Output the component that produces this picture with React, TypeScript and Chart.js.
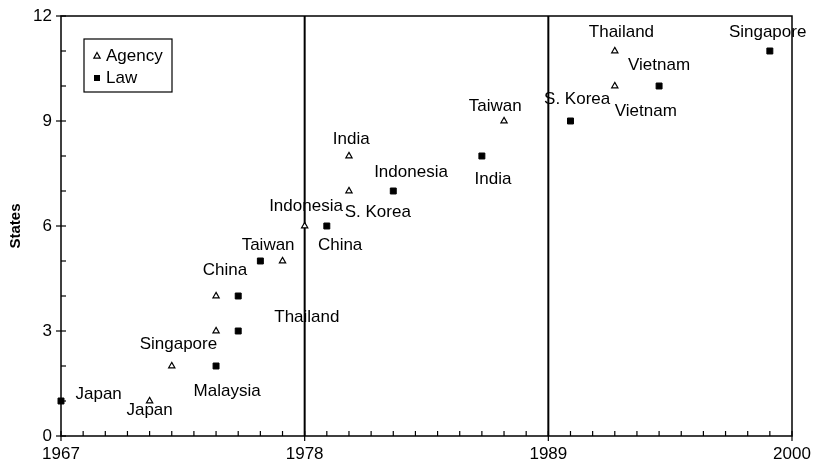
import React, { useEffect, useRef } from 'react';
import { Chart, registerables } from 'chart.js';

Chart.register(...registerables);

// Data
const agencyYears = [1971, 1972, 1974, 1974, 1977, 1978, 1980, 1980, 1987, 1992, 1992];
const agencyStates = [1, 2, 3, 4, 5, 6, 7, 8, 9, 10, 11];
const lawYears = [1967, 1974, 1975, 1975, 1976, 1979, 1982, 1986, 1990, 1994, 1999];
const lawStates = [1, 2, 3, 4, 5, 6, 7, 8, 9, 10, 11];

const xTickYears = [1967, 1978, 1989, 2000];
const yTickValues = [0, 3, 6, 9, 12];
const dividerYears = [1978, 1989];

// Country annotations (anchor in data units)
const labelTexts = [
  'Japan', 'Japan', 'Singapore', 'Malaysia', 'China', 'Taiwan', 'Thailand',
  'Indonesia', 'China', 'S. Korea', 'India', 'Indonesia', 'India', 'Taiwan',
  'S. Korea', 'Vietnam', 'Vietnam', 'Thailand', 'Singapore',
];
const labelYears = [
  1968.7, 1971, 1972.3, 1974.5, 1974.4, 1976.35, 1978.1,
  1978.06, 1979.6, 1981.3, 1980.1, 1982.8, 1986.5, 1986.6,
  1990.3, 1993.4, 1994, 1992.3, 1998.9,
];
const labelStates = [
  1.2, 0.74, 2.63, 1.29, 4.74, 5.46, 3.4,
  6.57, 5.46, 6.4, 8.49, 7.54, 7.34, 9.43,
  9.63, 9.29, 10.6, 11.54, 11.54,
];

const FONT = '"Liberation Sans", Arial, Helvetica, sans-serif';

function drawTriangle(ctx: CanvasRenderingContext2D, x: number, y: number, r: number) {
  ctx.beginPath();
  ctx.moveTo(x, y - r);
  ctx.lineTo(x + r * 0.9, y + r * 0.6);
  ctx.lineTo(x - r * 0.9, y + r * 0.6);
  ctx.closePath();
  ctx.fillStyle = '#fff';
  ctx.fill();
  ctx.lineWidth = 1.2;
  ctx.strokeStyle = '#000';
  ctx.stroke();
}

const framePlugin = {
  id: 'frame',
  beforeDatasetsDraw(chart: any) {
    const ctx = chart.ctx as CanvasRenderingContext2D;
    const { left, right, top, bottom } = chart.chartArea;
    const xs = chart.scales.x;
    const ys = chart.scales.y;
    ctx.save();
    ctx.strokeStyle = '#000';
    // frame
    ctx.lineWidth = 1.5;
    ctx.beginPath();
    ctx.moveTo(left, top);
    ctx.lineTo(right, top);
    ctx.lineTo(right, bottom);
    ctx.lineTo(left, bottom);
    ctx.closePath();
    ctx.stroke();
    // dividers
    ctx.lineWidth = 2;
    dividerYears.forEach((yr) => {
      const px = xs.getPixelForValue(yr);
      ctx.beginPath();
      ctx.moveTo(px, top);
      ctx.lineTo(px, bottom);
      ctx.stroke();
    });
    // ticks
    ctx.lineWidth = 1.2;
    for (let yr = xs.min; yr <= xs.max; yr++) {
      const px = xs.getPixelForValue(yr);
      const major = xTickYears.includes(yr);
      ctx.beginPath();
      ctx.moveTo(px, bottom - 5);
      ctx.lineTo(px, bottom + (major ? 5 : 0));
      ctx.stroke();
    }
    for (let v = ys.min; v <= ys.max; v++) {
      const py = ys.getPixelForValue(v);
      const major = yTickValues.includes(v);
      ctx.beginPath();
      ctx.moveTo(left - (major ? 5 : 0), py);
      ctx.lineTo(left + 5, py);
      ctx.stroke();
    }
    // axis title
    ctx.fillStyle = '#000';
    ctx.font = `bold 15px ${FONT}`;
    ctx.translate(16, (top + bottom) / 2);
    ctx.rotate(-Math.PI / 2);
    ctx.textAlign = 'center';
    ctx.textBaseline = 'middle';
    ctx.fillText('States', 0, 0);
    ctx.restore();
  },
  afterDatasetsDraw(chart: any) {
    const ctx = chart.ctx as CanvasRenderingContext2D;
    const xs = chart.scales.x;
    const ys = chart.scales.y;
    ctx.save();
    ctx.fillStyle = '#000';
    ctx.font = `17px ${FONT}`;
    ctx.textAlign = 'center';
    ctx.textBaseline = 'middle';
    labelTexts.forEach((t, i) => {
      ctx.fillText(t, xs.getPixelForValue(labelYears[i]), ys.getPixelForValue(labelStates[i]));
    });
    // legend
    const lx = chart.chartArea.left + 23;
    const ly = chart.chartArea.top + 23;
    ctx.fillStyle = '#fff';
    ctx.fillRect(lx, ly, 88, 53);
    ctx.strokeStyle = '#000';
    ctx.lineWidth = 1.2;
    ctx.strokeRect(lx, ly, 88, 53);
    drawTriangle(ctx, lx + 13, ly + 17, 3.5);
    ctx.fillStyle = '#000';
    ctx.fillRect(lx + 10, ly + 36, 6, 6);
    ctx.textAlign = 'left';
    ctx.font = `17px ${FONT}`;
    ctx.fillText('Agency', lx + 22, ly + 17);
    ctx.fillText('Law', lx + 22, ly + 39);
    ctx.restore();
  },
};

export default function App() {
  const ref = useRef<HTMLCanvasElement | null>(null);
  useEffect(() => {
    document.body.style.margin = '0';
    const canvas = ref.current;
    if (!canvas) return;
    const chart = new Chart(canvas, {
      type: 'scatter',
      data: {
        datasets: [
          {
            label: 'Agency',
            data: agencyYears.map((x, i) => ({ x, y: agencyStates[i] })),
            pointStyle: 'triangle',
            pointRadius: 3.6,
            backgroundColor: '#fff',
            borderColor: '#000',
            borderWidth: 1.2,
          },
          {
            label: 'Law',
            data: lawYears.map((x, i) => ({ x, y: lawStates[i] })),
            pointStyle: 'rect',
            pointRadius: 4.2,
            backgroundColor: '#000',
            borderColor: '#000',
            borderWidth: 1,
          },
        ],
      },
      options: {
        animation: false,
        responsive: false,
        maintainAspectRatio: false,
        clip: false as any,
        layout: { padding: { top: 16, right: 21, left: 0, bottom: 0 } },
        plugins: { legend: { display: false }, tooltip: { enabled: false } },
        scales: {
          x: {
            type: 'linear',
            min: 1967,
            max: 2000,
            grid: { display: false, drawTicks: false },
            border: { display: false },
            afterBuildTicks: (s: any) => {
              s.ticks = xTickYears.map((v) => ({ value: v }));
            },
            afterFit: (s: any) => {
              s.height = 31;
              s.paddingLeft = 0;
              s.paddingRight = 0;
            },
            ticks: {
              padding: 8,
              color: '#000',
              font: { family: FONT, size: 17 },
              callback: (v: any) => String(v),
              maxRotation: 0,
              autoSkip: false,
            },
          },
          y: {
            type: 'linear',
            min: 0,
            max: 12,
            grid: { display: false, drawTicks: false },
            border: { display: false },
            afterBuildTicks: (s: any) => {
              s.ticks = yTickValues.map((v) => ({ value: v }));
            },
            afterFit: (s: any) => {
              s.width = 61;
              s.paddingTop = 0;
              s.paddingBottom = 0;
            },
            ticks: {
              padding: 9,
              color: '#000',
              font: { family: FONT, size: 17 },
              callback: (v: any) => String(v),
              autoSkip: false,
            },
          },
        },
      },
      plugins: [framePlugin],
    });
    return () => chart.destroy();
  }, []);
  return (
    <div style={{ position: 'absolute', left: 0, top: 0, width: 813, height: 467, background: '#fff' }}>
      <canvas ref={ref} width={813} height={467} style={{ width: 813, height: 467 }} />
    </div>
  );
}
